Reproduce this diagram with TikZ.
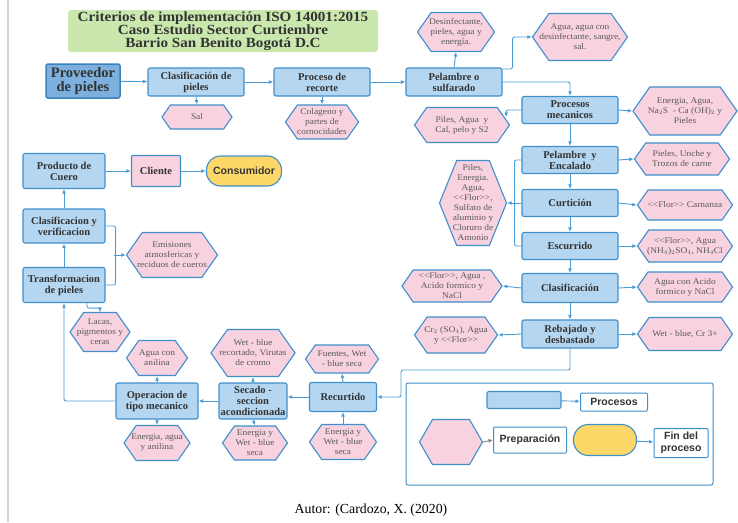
\documentclass[tikz,border=0pt]{standalone}
\usepackage{fontspec}
\setmainfont{Liberation Serif}
\newfontfamily\legendfont{Liberation Sans}
\newfontfamily\hexfont[FakeStretch=1.08]{Liberation Serif}
\newfontfamily\titlefont[FakeStretch=1.08]{Liberation Serif}
\usetikzlibrary{arrows.meta,shapes.symbols,calc}
\definecolor{lineblue}{HTML}{3F8FCB}
\definecolor{arrowblue}{HTML}{4C9CD6}
\definecolor{boxblue}{HTML}{B5D6F0}
\definecolor{provblue}{HTML}{7DB0DE}
\definecolor{provline}{HTML}{3A80BC}
\definecolor{hexpink}{HTML}{F8D2DF}
\definecolor{finyellow}{HTML}{FDD868}
\definecolor{titlegreen}{HTML}{CAE8AD}
\definecolor{textdark}{HTML}{333333}
\definecolor{textgray}{HTML}{5A5A5A}
\newcommand{\flor}{\textless\kern0pt\textless\kern0pt Flor\kern0pt\textgreater\kern0pt\textgreater}
\tikzset{
	box/.style={draw=lineblue, fill=boxblue, line width=1.1pt, rounded corners=2pt, align=center, text=textdark, inner sep=0.5pt, minimum width=96pt, minimum height=28pt, font=\fontsize{10.5}{11}\selectfont\bfseries},
	hexa/.style={signal, signal to=east and west, signal pointer angle=110, draw=lineblue, fill=hexpink, line width=1.1pt, align=center, text=textgray, inner ysep=0pt, inner xsep=-15pt, font=\hexfont\fontsize{8.7}{10}\selectfont},
	fin/.style={draw=lineblue, fill=finyellow, line width=1.1pt, rounded corners=14pt, inner sep=0pt, font=\legendfont\fontsize{10.5}{12}\selectfont\bfseries, text=textdark},
	flow/.style={draw=arrowblue, line width=0.9pt, -{Latex[length=4.5pt,width=4pt]}, rounded corners=2pt},
	legtxt/.style={draw=lineblue, line width=1pt, fill=white, rounded corners=1pt, align=center, inner sep=0pt, font=\legendfont\fontsize{10.5}{12}\selectfont\bfseries, text=textdark}
}
\begin{document}
\begin{tikzpicture}[x=1pt,y=-1pt]
	\useasboundingbox (0,0) rectangle (738,522);
	\draw[gray!35, line width=2pt] (8,0) -- (8,522);
	% encabezado
	\node[fill=titlegreen, rounded corners=3pt, minimum width=310pt, minimum height=42pt, align=center, inner sep=0pt, text=textdark, font=\titlefont\fontsize{14}{12.5}\selectfont\bfseries] (titulo) at (223,31) {Criterios de implementación ISO 14001:2015\\Caso Estudio Sector Curtiembre\\Barrio San Benito Bogotá D.C};
	% fila superior
	\node[box, fill=provblue, draw=provline, line width=1.5pt, minimum width=74pt, minimum height=34pt, font=\fontsize{14.5}{14}\selectfont\bfseries] (proveedor) at (83,81) {Proveedor\\de pieles};
	\node[box] (clasif) at (196,82) {Clasificación de\\pieles};
	\node[box] (recorte) at (322,82) {Proceso de\\recorte};
	\node[box] (pelsulf) at (454,82) {Pelambre o\\sulfarado};
	\node[hexa, minimum width=70pt, minimum height=24pt] (sal) at (197,117) {Sal};
	\node[hexa, minimum width=73pt, minimum height=34pt] (colageno) at (322,122) {Colageno y\\partes de\\cornocidades};
	\node[hexa, minimum width=77pt, minimum height=39pt] (desinf) at (456,32) {Desinfectante,\\pieles, agua y\\energía.};
	\node[hexa, minimum width=95pt, minimum height=47pt] (aguadesinf) at (580,37) {Agua, agua con\\desinfectante, sangre,\\sal.};
	% columna derecha
	\node[box, minimum height=27pt] (procmec) at (570,110) {Procesos\\mecanicos};
	\node[hexa, minimum width=104pt, minimum height=48pt] (energna) at (685,111) {Energia, Agua,\\Na$_2$S ~- Ca (OH)$_2$ y\\Pieles};
	\node[hexa, minimum width=95pt, minimum height=35pt] (pilesagua) at (462,125) {Piles, Agua ~y\\Cal, pelo y S2};
	\node[box, minimum height=27pt] (pelenc) at (570,160) {Pelambre ~y\\Encalado};
	\node[hexa, minimum width=95pt, minimum height=32pt] (unche) at (682,159) {Pieles, Unche y\\Trozos de carne};
	\node[box, minimum height=27pt] (curticion) at (570,203) {Curtición};
	\node[hexa, minimum width=95pt, minimum height=30pt] (carnaza) at (685,205) {\flor{} Carnanza};
	\node[box, minimum height=27pt] (escurrido) at (570,246) {Escurrido};
	\node[hexa, minimum width=95pt, minimum height=32pt] (floragua) at (685,246) {\flor, Agua\\(NH$_4$)$_2$SO$_4$, NH$_4$Cl};
	\node[hexa, signal pointer angle=136, minimum width=67pt, minimum height=85pt] (insumos) at (473,203) {Piles,\\Energia.\\Agua,\\\flor,\\Sulfato de\\aluminio y\\Cloruro de\\Amonio};
	\node[box, minimum height=29pt] (clasifcur) at (570,288) {Clasificación};
	\node[hexa, minimum width=100pt, minimum height=32pt] (floracido) at (452,286) {\flor, Agua ,\\Acido formico y\\NaCl};
	\node[hexa, minimum width=95pt, minimum height=30pt] (aguaacido) at (685,287) {Agua con Acido\\formico y NaCl};
	\node[box] (rebajado) at (570,334) {Rebajado y\\desbastado};
	\node[hexa, minimum width=83pt, minimum height=36pt] (cromo) at (456,335) {Cr$_2$ (SO$_4$), Agua\\y \flor};
	\node[hexa, minimum width=95pt, minimum height=33pt] (wetcr) at (685,334) {Wet - blue, Cr 3+};
	% fila inferior
	\node[box, minimum width=67pt, minimum height=29pt] (recurtido) at (343,397) {Recurtido};
	\node[hexa, minimum width=73pt, minimum height=28pt] (fuentes) at (342,359) {Fuentes, Wet\\- blue seca};
	\node[hexa, minimum width=67pt, minimum height=35pt] (energrec) at (343,442) {Energia y\\Wet - blue\\seca};
	\node[box, minimum width=68pt, minimum height=36pt] (secado) at (253,401) {Secado -\\seccion\\acondicionada};
	\node[hexa, minimum width=84pt, minimum height=47pt] (virutas) at (253,353) {Wet - blue\\recortado, Virutas\\de cromo};
	\node[hexa, minimum width=65pt, minimum height=34pt] (energsec) at (255,443) {Energia y\\Wet - blue\\seca};
	\node[box, minimum width=82pt, minimum height=36pt] (opmec) at (157,401) {Operacion de\\tipo mecanico};
	\node[hexa, minimum width=61pt, minimum height=35pt] (anilina) at (157,358) {Agua con\\anilina};
	\node[hexa, minimum width=66pt, minimum height=35pt] (energanil) at (157,443) {Energia, agua\\y anilina};
	% columna izquierda
	\node[box, minimum width=82pt, minimum height=35pt] (transf) at (64,285) {Transformacion\\de pieles};
	\node[hexa, minimum width=60pt, minimum height=39pt] (lacas) at (100,332) {Lacas,\\pigmentos y\\ceras};
	\node[box, minimum width=82pt, minimum height=34pt] (verif) at (64,226) {Clasificacion y\\verificacion};
	\node[hexa, minimum width=91pt, minimum height=45pt] (emisiones) at (172,255) {Emisiones\\atmosfericas y\\reciduos de cueros};
	\node[box, minimum width=82pt, minimum height=35pt] (producto) at (64,171) {Producto de\\Cuero};
	\node[box, fill=hexpink, rounded corners=1pt, minimum width=49pt, minimum height=31pt] (cliente) at (156,171) {Cliente};
	\node[fin, minimum width=75pt, minimum height=30pt] (consumidor) at (244,171) {Consumidor};
	% conexiones
	\draw[flow] (proveedor) -- (clasif);
	\draw[flow] (clasif) -- (recorte);
	\draw[flow] (recorte) -- (pelsulf);
	\draw[flow] (clasif.south) -- (sal.north);
	\draw[flow] (recorte.south) -- (colageno.north);
	\draw[flow] (pelsulf.north) -- (desinf.south);
	\draw[flow] ([yshift=-1.5pt]pelsulf.north east) -- ++(10,0) |- (aguadesinf.west);
	\draw[flow] (pelsulf.east) -| (procmec.north);
	\draw[flow] (procmec.east) -- (energna.west);
	\coordinate (pilesin) at ($(pilesagua.east)+(-4,-8)$);
	\draw[flow] (procmec.west) -| (pilesin);
	\draw[flow] (procmec) -- (pelenc);
	\draw[flow] (pelenc.east) -- (unche.west);
	\draw[flow] (pelenc) -- (curticion);
	\draw[flow] (curticion) -- (escurrido);
	\draw[flow] (escurrido) -- (clasifcur);
	\draw[flow] (clasifcur) -- (rebajado);
	\draw[draw=arrowblue, line width=0.9pt, rounded corners=2pt] (pelenc.west) -- ++(-7,0) |- (escurrido.west);
	\draw[flow] (curticion.west) -- (insumos.east);
	\draw[flow] (curticion.east) -- (carnaza.west);
	\draw[flow] (escurrido.east) -- (floragua.west);
	\draw[flow] (clasifcur.east) -- (aguaacido.west);
	\draw[flow] (clasifcur.west) -- (floracido.east);
	\draw[flow] (rebajado.east) -- (wetcr.west);
	\draw[flow] (rebajado.west) -- (cromo.east);
	\coordinate (codo) at (401,370);
	\draw[flow] (rebajado.south) |- (codo) |- (recurtido.east);
	\draw[flow] (recurtido.north) -- (fuentes.south);
	\draw[flow] (energrec.north) -- (recurtido.south);
	\draw[flow] (recurtido.west) -- (secado.east |- recurtido.west);
	\draw[flow] (secado.north) -- (virutas.south);
	\draw[flow] (secado.south) -- (energsec.north);
	\draw[flow] (secado.west) -- (opmec.east);
	\draw[flow] (opmec.north) -- (anilina.south);
	\draw[flow] (opmec.south) -- (energanil.north);
	\draw[flow] (opmec.west) -| (transf.south);
	\draw[flow] ([xshift=23pt]transf.south) -- ++(0,5) -| (lacas.north);
	\draw[flow] (transf) -- (verif);
	\draw[flow] (verif) -- (producto);
	\draw[draw=arrowblue, line width=0.9pt, rounded corners=2pt] (verif.east) -- ++(10,0) |- (transf.east);
	\draw[flow] ([xshift=-12pt]emisiones.west) -- (emisiones.west);
	\draw[flow] (producto) -- (cliente);
	\draw[flow] (cliente) -- (consumidor);
	% convenciones
	\draw[lineblue, line width=1pt, rounded corners=2pt] (406,383) rectangle (713,485);
	\node[box, minimum width=74pt, minimum height=17pt] (lgproc) at (524,400) {};
	\node[legtxt, minimum width=67pt, minimum height=18pt] (lgproctxt) at (614,402) {Procesos};
	\node[hexa, signal pointer angle=120, minimum width=63pt, minimum height=45pt] (lghex) at (451,442) {};
	\node[legtxt, minimum width=73pt, minimum height=26pt] (lgpreptxt) at (530,440) {Preparación};
	\node[fin, rounded corners=15pt, minimum width=63pt, minimum height=31pt] (lgfin) at (605,440) {};
	\node[legtxt, minimum width=54pt, minimum height=29pt] (lgfintxt) at (681,443) {Fin del\\proceso};
	\draw[flow] (lgproc) -- (lgproctxt);
	\draw[flow, draw=gray] (lghex.east) -- (lgpreptxt.west);
	\draw[flow] (lgfin) -- (lgfintxt);
	\node[font=\fontsize{13.8}{15}\selectfont] (autor) at (371,510) {Autor: (Cardozo, X. (2020)};
\end{tikzpicture}
\end{document}
